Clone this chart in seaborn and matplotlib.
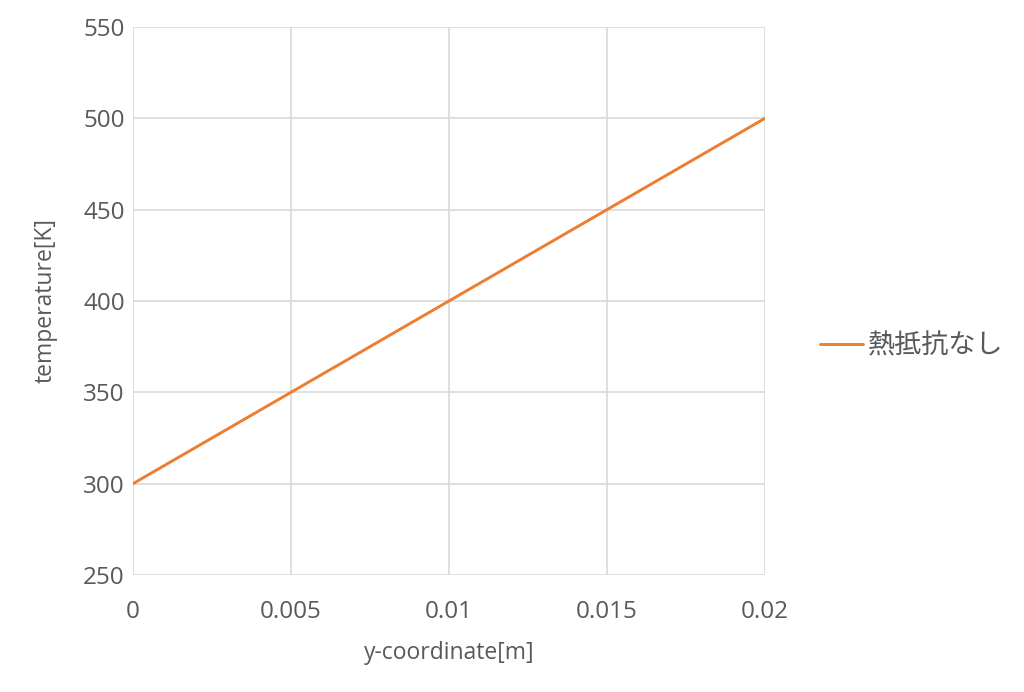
import matplotlib
matplotlib.use("Agg")
import matplotlib.pyplot as plt
import seaborn as sns
import pandas as pd

# データ
y_coord = [0.0, 0.0025, 0.005, 0.0075, 0.01, 0.0125, 0.015, 0.0175, 0.02]
temperature = [300, 325, 350, 375, 400, 425, 450, 475, 500]
series_name = '熱抵抗なし'
x_ticks = [0, 0.005, 0.01, 0.015, 0.02]
x_tick_labels = ['0', '0.005', '0.01', '0.015', '0.02']
y_ticks = [250, 300, 350, 400, 450, 500, 550]

sns.set_theme(style="whitegrid")
plt.rcParams['font.family'] = ['Open Sans', 'Noto Sans CJK JP', 'DejaVu Sans']

df = pd.DataFrame({'y': y_coord, 'T': temperature, 'case': series_name})

fig = plt.figure(figsize=(10.24, 6.92), dpi=100)
ax = fig.add_axes([0.1299, 0.1691, 0.6172, 0.792])
sns.lineplot(data=df, x='y', y='T', hue='case', palette=['#ED7D31'],
             linewidth=2.1, ax=ax, legend=False)

ax.set_xlim(0, 0.02)
ax.set_ylim(250, 550)
ax.set_xticks(x_ticks)
ax.set_xticklabels(x_tick_labels)
ax.set_yticks(y_ticks)
ax.grid(True, color='#d9d9d9', linewidth=1.2)
for s in ax.spines.values():
    s.set_visible(False)
ax.tick_params(axis='both', labelsize=17.5, colors='#595959', length=0)
ax.tick_params(axis='x', pad=18)
ax.tick_params(axis='y', pad=6)
ax.set_xlabel('y-coordinate[m]', fontsize=16.5, color='#595959', labelpad=12)
ax.set_ylabel('temperature[K]', fontsize=16.5, color='#595959', labelpad=18)

handles = [plt.Line2D([], [], color='#ED7D31', linewidth=2.1)]
fig.legend(handles, [series_name], loc='center left', bbox_to_anchor=(0.777, 0.5),
           frameon=False, labelcolor='#595959',
           prop={'family': ['Noto Sans CJK JP'], 'size': 19.5},
           handlelength=1.6, handletextpad=0.15)

fig.savefig('out.png', dpi=100, facecolor='white')
